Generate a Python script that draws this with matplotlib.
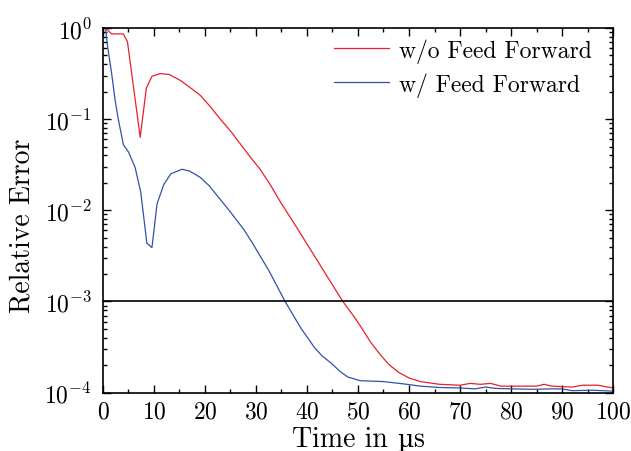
import numpy as np
import matplotlib
matplotlib.use("Agg")
import matplotlib.pyplot as plt
from matplotlib.ticker import LogLocator, MultipleLocator, NullFormatter
from matplotlib.offsetbox import TextArea, HPacker, AnchoredOffsetbox

plt.rcParams['font.family'] = ['cmr10', 'DejaVu Serif']
plt.rcParams['mathtext.fontset'] = 'cm'
plt.rcParams['axes.formatter.use_mathtext'] = True

# Time in µs and log10 of relative error
t_wo = [0.5, 1.7, 4.0, 4.8, 7.3, 8.5, 9.6, 11.2, 13.0, 15.2, 17.0, 19.1, 21.0, 23.0,
        25.0, 26.9, 28.8, 30.8, 32.8, 34.8, 38.0, 41.0, 44.0, 46.9, 49.5, 50.8, 52.5,
        54.3, 56.0, 58.0, 60.0, 62.2, 66.0, 70.0, 72.0, 74.0, 76.0, 78.0, 82.0, 85.0,
        86.5, 88.0, 92.0, 94.0, 97.0, 100.0]
log_err_wo = [0.0, -0.065, -0.065, -0.15, -1.2, -0.66, -0.53, -0.50, -0.51, -0.576,
              -0.65, -0.74, -0.86, -1.0, -1.13, -1.27, -1.41, -1.55, -1.72, -1.91,
              -2.19, -2.46, -2.73, -2.99, -3.19, -3.30, -3.45, -3.58, -3.69, -3.78,
              -3.84, -3.88, -3.91, -3.92, -3.90, -3.91, -3.90, -3.93, -3.93, -3.93,
              -3.91, -3.93, -3.94, -3.92, -3.92, -3.95]

t_w = [0.5, 0.9, 1.7, 2.4, 3.0, 4.0, 5.0, 6.3, 7.4, 8.6, 9.6, 10.6, 11.9, 13.3, 15.5,
       17.0, 19.1, 20.8, 22.4, 25.0, 27.6, 29.2, 30.8, 32.5, 34.1, 35.7, 37.7, 39.0,
       40.4, 41.5, 43.0, 44.8, 46.5, 48.0, 50.4, 55.0, 59.6, 62.2, 66.0, 70.0, 73.0,
       75.0, 77.0, 80.0, 84.0, 88.0, 90.0, 92.0, 96.0, 100.0]
log_err_w = [0.0, -0.2, -0.5, -0.8, -1.0, -1.28, -1.36, -1.53, -1.80, -2.36, -2.41,
             -1.93, -1.72, -1.60, -1.55, -1.57, -1.64, -1.73, -1.84, -2.02, -2.21,
             -2.35, -2.50, -2.66, -2.83, -3.0, -3.19, -3.31, -3.42, -3.51, -3.60,
             -3.68, -3.77, -3.83, -3.87, -3.88, -3.91, -3.93, -3.945, -3.95, -3.96,
             -3.94, -3.955, -3.96, -3.965, -3.96, -3.96, -3.98, -3.975, -3.985]

threshold = 1e-3
labels = ["w/o Feed Forward", "w/ Feed Forward"]

fig = plt.figure(figsize=(6.31, 4.52), dpi=100)
ax = fig.add_axes([0.1632, 0.1294, 0.9715 - 0.1632, 0.9358 - 0.1294])

ax.plot(t_wo, 10 ** np.array(log_err_wo), color='#e8202a', lw=0.9, label=labels[0])
ax.plot(t_w, 10 ** np.array(log_err_w), color='#3152a8', lw=0.9, label=labels[1])
ax.axhline(threshold, color='black', lw=1.2)

ax.set_yscale('log')
ax.set_xlim(0, 100)
ax.set_ylim(1e-4, 1)
ax.xaxis.set_major_locator(MultipleLocator(10))
ax.xaxis.set_minor_locator(MultipleLocator(5))
ax.yaxis.set_major_locator(LogLocator(base=10, numticks=10))
ax.yaxis.set_minor_locator(LogLocator(base=10, subs=np.arange(2, 10), numticks=20))
ax.yaxis.set_minor_formatter(NullFormatter())

ax.tick_params(which='both', direction='in', top=True, right=True, labelsize=17)
ax.tick_params(which='major', length=6, width=1)
ax.tick_params(which='minor', length=3, width=1)
ax.tick_params(axis='y', which='major', pad=8)
ax.tick_params(axis='x', which='major', pad=6)
for s in ax.spines.values():
    s.set_linewidth(1.2)

ax.set_ylabel("Relative Error", fontsize=20)
ax.yaxis.set_label_coords(22.5 / 631, 0.5, transform=fig.transFigure)
ax.yaxis.label.set_verticalalignment('center')

# x label built from pieces so that µ comes from a font that has it
xl_parts = [TextArea("Time in ", textprops=dict(family='cmr10', size=20)),
            TextArea("µ", textprops=dict(family='DejaVu Serif', size=18)),
            TextArea("s", textprops=dict(family='cmr10', size=20))]
xl_box = HPacker(children=xl_parts, align='baseline', pad=0, sep=0)
xl_anchor = AnchoredOffsetbox(loc='center', child=xl_box, pad=0, borderpad=0, frameon=False,
                              bbox_to_anchor=(358 / 631, 1 - 440 / 452),
                              bbox_transform=fig.transFigure)
fig.add_artist(xl_anchor)

ax.legend(loc='upper right', frameon=False, fontsize=17, handlelength=2.3,
          handletextpad=0.45, labelspacing=0.4, borderpad=0, borderaxespad=0,
          bbox_to_anchor=(0.959, 0.972))

fig.savefig("out.png", dpi=100)
